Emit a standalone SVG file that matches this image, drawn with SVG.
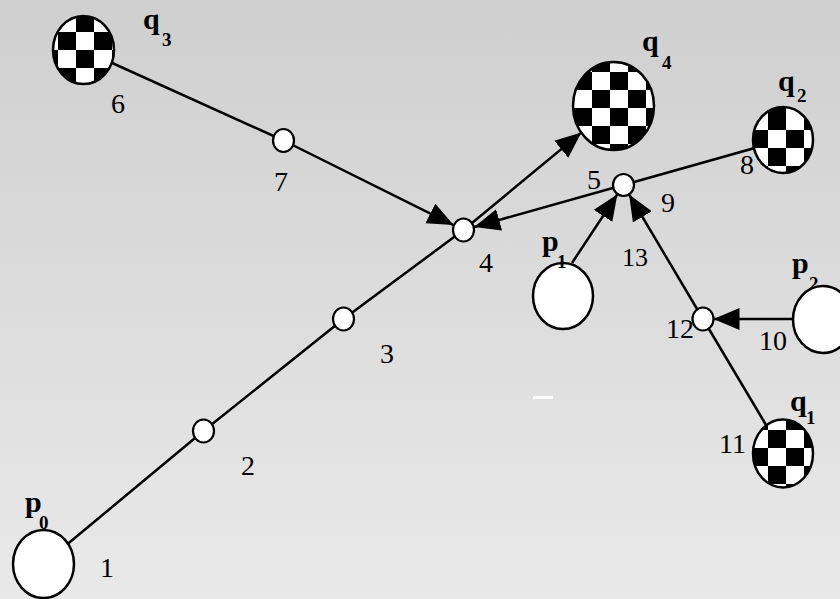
<svg xmlns="http://www.w3.org/2000/svg" width="840" height="599" viewBox="0 0 840 599">
<defs>
<linearGradient id="bg" x1="0" y1="0" x2="0" y2="1">
<stop offset="0" stop-color="#cfcfcf"/>
<stop offset="1" stop-color="#e9e9e9"/>
</linearGradient>
<clipPath id="c3"><ellipse cx="83.5" cy="50" rx="30.5" ry="34"/></clipPath>
<clipPath id="c4"><ellipse cx="613.5" cy="106" rx="40.5" ry="44"/></clipPath>
<clipPath id="c2"><ellipse cx="783" cy="140" rx="30" ry="33"/></clipPath>
<clipPath id="c1"><ellipse cx="783" cy="453.5" rx="30" ry="34"/></clipPath>
<marker id="arr" markerUnits="userSpaceOnUse" markerWidth="28" markerHeight="24" refX="26" refY="11" orient="auto">
<path d="M0,0 L26,11 L0,22 z" fill="#000"/>
</marker>
<style>
.edge{stroke:#000;stroke-width:2.5;fill:none}
.big{stroke:#000;stroke-width:2.5;fill:#fff}
.ring{stroke:#000;stroke-width:2.5;fill:none}
.wh{fill:#fff}
.blk{fill:#000}
.jn{stroke:#000;stroke-width:2.2;fill:#fff}
.num{font-family:"Liberation Serif","Times New Roman",serif;font-size:28px;fill:#000}
.sm{font-size:26px}
.lbl{font-family:"Liberation Serif","Times New Roman",serif;font-size:30px;font-weight:bold;fill:#000}
.sub{font-size:19px}
</style>
</defs>
<rect width="840" height="599" fill="url(#bg)"/>
<rect x="533" y="396" width="20" height="3" fill="#fff"/>

<g id="connectors">
<polyline class="edge" points="43.5,564 203.5,431 343.5,319 463.5,230"/>
<line class="edge" x1="463.5" y1="230" x2="581.3" y2="132.6" marker-end="url(#arr)"/>
<line class="edge" x1="83.5" y1="50" x2="283.5" y2="140.5"/>
<line class="edge" x1="283.5" y1="140.5" x2="453.6" y2="225.1" marker-end="url(#arr)"/>
<line class="edge" x1="783" y1="140" x2="623.5" y2="185"/>
<line class="edge" x1="623.5" y1="185" x2="474.1" y2="227" marker-end="url(#arr)"/>
<line class="edge" x1="572" y1="263" x2="617.4" y2="194.2" marker-end="url(#arr)"/>
<line class="edge" x1="703" y1="319" x2="629.1" y2="194.5" marker-end="url(#arr)"/>
<line class="edge" x1="794" y1="319" x2="713.5" y2="319" marker-end="url(#arr)"/>
<line class="edge" x1="783" y1="453.5" x2="703" y2="319"/>
</g>

<g id="q3">
<ellipse class="wh" cx="83.5" cy="50" rx="30.5" ry="34"/>
<path class="blk" clip-path="url(#c3)" d="M40,14h18v18h-18z M40,50h18v18h-18z M58,32h18v18h-18z M58,68h18v18h-18z M76,14h18v18h-18z M76,50h18v18h-18z M94,32h18v18h-18z M94,68h18v18h-18z M112,14h18v18h-18z M112,50h18v18h-18z"/>
<ellipse class="ring" cx="83.5" cy="50" rx="30.5" ry="34"/>
<text class="lbl" x="143" y="29">q</text><text class="lbl sub" x="162" y="46">3</text></g>

<g id="q4">
<ellipse class="wh" cx="613.5" cy="106" rx="40.5" ry="44"/>
<path class="blk" clip-path="url(#c4)" d="M556,54h18v18h-18z M556,90h18v18h-18z M556,126h18v18h-18z M574,72h18v18h-18z M574,108h18v18h-18z M574,144h18v18h-18z M592,54h18v18h-18z M592,90h18v18h-18z M592,126h18v18h-18z M610,72h18v18h-18z M610,108h18v18h-18z M610,144h18v18h-18z M628,54h18v18h-18z M628,90h18v18h-18z M628,126h18v18h-18z M646,72h18v18h-18z M646,108h18v18h-18z M646,144h18v18h-18z"/>
<ellipse class="ring" cx="613.5" cy="106" rx="40.5" ry="44"/>
<text class="lbl" x="642" y="51">q</text><text class="lbl sub" x="662" y="69">4</text></g>

<g id="q2">
<ellipse class="wh" cx="783" cy="140" rx="30" ry="33"/>
<path class="blk" clip-path="url(#c2)" d="M768,104h18v26h-18z M768,148h18v18h-18z M804,104h18v26h-18z M804,148h18v18h-18z M750,130h18v18h-18z M750,166h18v18h-18z M786,130h18v18h-18z M786,166h18v18h-18z"/>
<ellipse class="ring" cx="783" cy="140" rx="30" ry="33"/>
<text class="lbl" x="778" y="91">q</text><text class="lbl sub" x="797" y="102">2</text></g>

<g id="q1">
<ellipse class="wh" cx="783" cy="453.5" rx="30" ry="34"/>
<path class="blk" clip-path="url(#c1)" d="M750,412h18v18h-18z M750,448h18v18h-18z M750,484h18v18h-18z M768,430h18v18h-18z M768,466h18v18h-18z M786,412h18v18h-18z M786,448h18v18h-18z M786,484h18v18h-18z M804,430h18v18h-18z M804,466h18v18h-18z"/>
<ellipse class="ring" cx="783" cy="453.5" rx="30" ry="34"/>
<text class="lbl" x="790" y="411">q</text><text class="lbl sub" x="806" y="424">1</text></g>

<g id="p0"><text class="lbl" x="25" y="512">p</text><text class="lbl sub" x="39" y="529">0</text>
<ellipse class="big" cx="43.5" cy="564" rx="30.5" ry="34"/></g>
<g id="p1"><ellipse class="big" cx="563" cy="296" rx="30" ry="33"/>
<text class="lbl" x="542" y="251">p</text><text class="lbl sub" x="557" y="268">1</text></g>
<g id="p2"><text class="lbl" x="792" y="273">p</text><text class="lbl sub" x="809" y="290">2</text>
<ellipse class="big" cx="823" cy="319.5" rx="30" ry="33.5"/></g>

<g id="n2"><ellipse class="jn" cx="203.5" cy="431" rx="10.5" ry="11.5"/><text class="num" x="241" y="475">2</text></g>
<g id="n3"><ellipse class="jn" cx="343.5" cy="319" rx="10.5" ry="11.5"/><text class="num" x="380" y="363">3</text></g>
<g id="n4"><ellipse class="jn" cx="463.5" cy="230" rx="10.5" ry="11.5"/><text class="num" x="479" y="272">4</text></g>
<g id="n7"><ellipse class="jn" cx="283.5" cy="140.5" rx="10.5" ry="11.5"/><text class="num" x="274" y="191">7</text></g>
<g id="n59"><ellipse class="jn" cx="623.5" cy="185" rx="10.5" ry="11"/><text class="num" x="587" y="189">5</text><text class="num" x="661" y="212">9</text><text class="num sm" x="622" y="266">13</text></g>
<g id="n12"><ellipse class="jn" cx="703" cy="319" rx="10.5" ry="11.5"/><text class="num" x="666" y="338">12</text><text class="num" x="759" y="350">10</text></g>
<text class="num" x="111" y="113">6</text>
<text class="num" x="740" y="174">8</text>
<text class="num" x="719" y="453">11</text>
<text class="num" x="100" y="577">1</text>
</svg>
